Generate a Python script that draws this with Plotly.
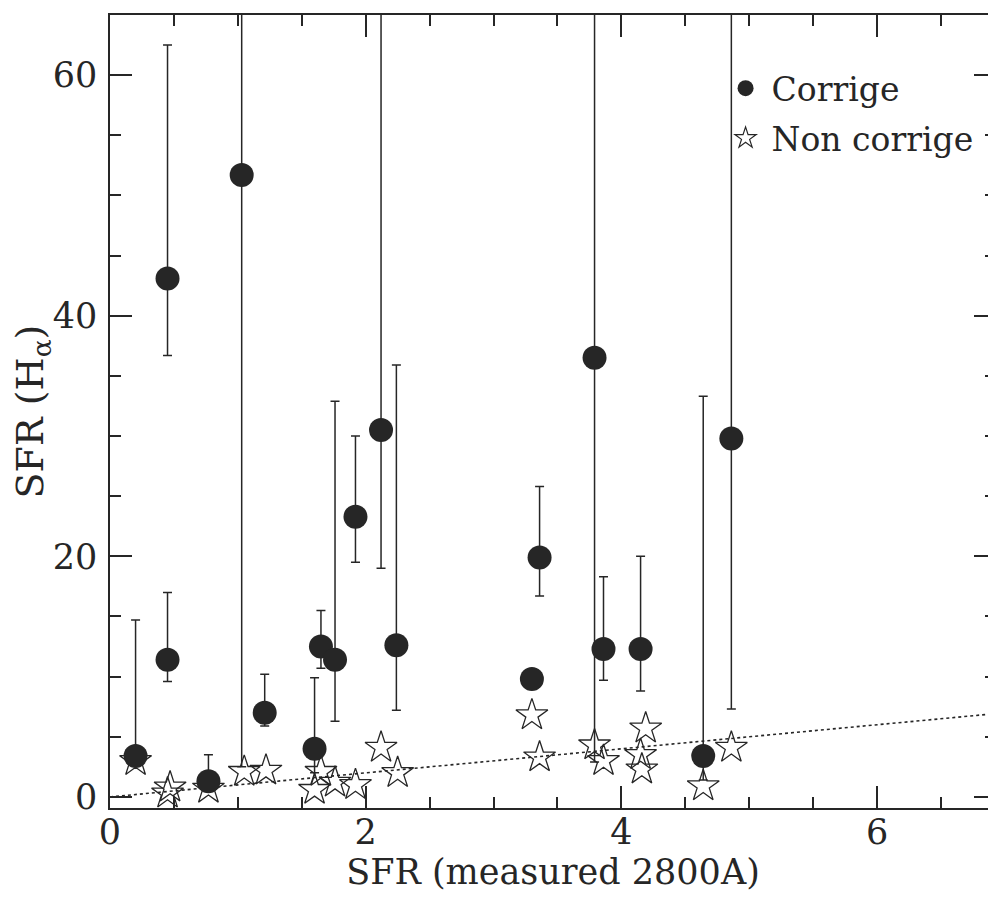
import plotly.graph_objects as go

# SFR values
corr_x = [0.20, 0.45, 0.45, 0.77, 1.03, 1.21, 1.60, 1.65, 1.76, 1.92,
          2.12, 2.24, 3.30, 3.36, 3.79, 3.86, 4.15, 4.64, 4.86]
corr_y = [3.4, 11.4, 43.1, 1.3, 51.7, 7.0, 4.0, 12.5, 11.4, 23.3,
          30.5, 12.6, 9.8, 19.9, 36.5, 12.3, 12.3, 3.4, 29.8]
corr_hi = [14.7, 17.0, 62.5, 3.5, 90.0, 10.2, 9.9, 15.5, 32.9, 30.0,
           90.0, 35.9, 9.8, 25.8, 90.0, 18.3, 20.0, 33.3, 90.0]
corr_lo = [3.0, 9.6, 36.7, 0.9, 2.5, 5.9, 2.0, 10.7, 6.3, 19.5,
           19.0, 7.2, 9.8, 16.7, 2.9, 9.7, 8.8, 1.4, 7.3]

raw_x = [0.20, 0.47, 0.45, 0.77, 1.05, 1.22, 1.60, 1.65, 1.76, 1.92, 2.12,
         2.25, 3.30, 3.36, 3.79, 3.86, 4.19, 4.15, 4.16, 4.64, 4.86]
raw_y = [3.0, 0.8, 0.3, 0.7, 2.1, 2.2, 0.6, 2.1, 1.2, 1.0, 4.1,
         2.0, 6.8, 3.3, 4.3, 3.0, 5.7, 3.5, 2.3, 0.9, 4.1]

one_to_one = [0, 7]

err_plus = [h - y for h, y in zip(corr_hi, corr_y)]
err_minus = [y - l for y, l in zip(corr_y, corr_lo)]

INK = "#262626"
FONT = "DejaVu Serif"

fig = go.Figure()

# y = x reference line
fig.add_trace(go.Scatter(x=one_to_one, y=one_to_one, mode="lines",
                         line=dict(color=INK, width=1.6, dash="dot"),
                         showlegend=False, hoverinfo="skip"))

# uncorrected values
fig.add_trace(go.Scatter(x=raw_x, y=raw_y, mode="markers", showlegend=False,
                         marker=dict(symbol="star-open", size=24, color=INK,
                                     line=dict(width=1.3, color=INK))))

# corrected values with error bars
fig.add_trace(go.Scatter(x=corr_x, y=corr_y, mode="markers", showlegend=False,
                         marker=dict(symbol="circle", size=24, color=INK),
                         error_y=dict(type="data", array=err_plus, arrayminus=err_minus,
                                      color=INK, thickness=1.5, width=4.5)))

# legend entries
fig.add_trace(go.Scatter(x=[None], y=[None], mode="markers", name="Corrige",
                         legendgroup="a",
                         marker=dict(symbol="circle", size=22, color=INK)))
fig.add_trace(go.Scatter(x=[None], y=[None], mode="markers", name="Non corrige",
                         legendgroup="b",
                         marker=dict(symbol="star-open", size=18, color=INK,
                                     line=dict(width=1.2, color=INK))))

axis_style = dict(showline=True, linecolor=INK, linewidth=1.5, mirror="allticks",
                  ticks="inside", tickcolor=INK, tickwidth=1.5, ticklen=22,
                  showgrid=False, zeroline=False, automargin=False,
                  tickfont=dict(family=FONT, size=35, color=INK))

fig.update_xaxes(range=[0, 6.93], dtick=2, tick0=0,
                 minor=dict(dtick=0.5, ticks="inside", ticklen=11,
                            tickcolor=INK, tickwidth=1.5, showgrid=False),
                 title=dict(text="SFR (measured 2800A)", standoff=0,
                            font=dict(family=FONT, size=35, color=INK)),
                 **axis_style)
fig.update_xaxes(ticklabelstandoff=-8)
fig.update_yaxes(range=[-0.92, 65.0], dtick=20, tick0=0,
                 minor=dict(dtick=5, ticks="inside", ticklen=11,
                            tickcolor=INK, tickwidth=1.5, showgrid=False),
                 title=dict(text="SFR (H<sub>α</sub>)", standoff=6,
                            font=dict(family=FONT, size=38, color=INK)),
                 **axis_style)
fig.update_yaxes(ticklabelstandoff=4)

# the page body adds an 8px offset, so the figure is 8px smaller than the window
fig.update_layout(
    width=988, height=896,
    margin=dict(l=102, r=0, t=7, b=96),
    paper_bgcolor="white", plot_bgcolor="white",
    font=dict(family=FONT, color=INK),
    legend=dict(x=0.688, y=0.943, xanchor="left", yanchor="top",
                bgcolor="rgba(0,0,0,0)", tracegroupgap=4, itemwidth=42,
                font=dict(family=FONT, size=33, color=INK)),
)

fig.write_html("out.html")
